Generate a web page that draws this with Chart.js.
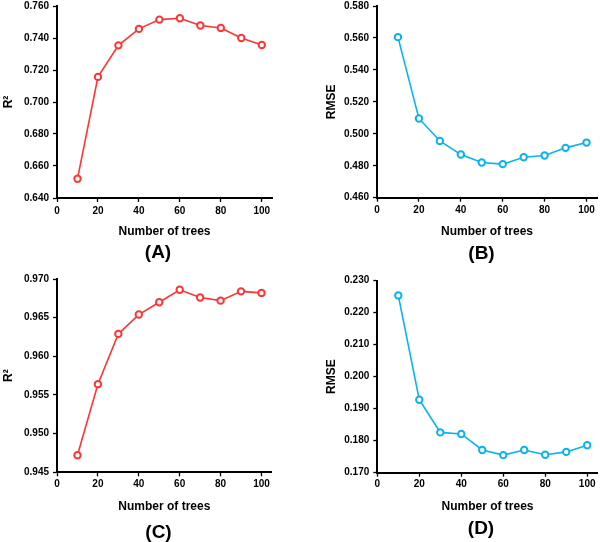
<!DOCTYPE html>
<html>
<head>
<meta charset="utf-8">
<script src="https://cdn.jsdelivr.net/npm/chart.js@4.4.1/dist/chart.umd.min.js"></script>
<style>
html,body{margin:0;padding:0;background:#fff;overflow:hidden;width:600px;height:542px;}
canvas{position:absolute;}
</style>
</head>
<body>
<canvas id="cA"></canvas>
<canvas id="cB"></canvas>
<canvas id="cC"></canvas>
<canvas id="cD"></canvas>
<script>
// ---- data ----
const trees = [10, 20, 30, 40, 50, 60, 70, 80, 90, 100];
const xTicks = [0, 20, 40, 60, 80, 100];
const r2A   = [0.652, 0.7157, 0.7354, 0.7457, 0.7515, 0.7523, 0.7478, 0.7463, 0.7400, 0.7356];
const rmseB = [0.5605, 0.5096, 0.4955, 0.4870, 0.4820, 0.4810, 0.4853, 0.4864, 0.4912, 0.4945];
const r2C   = [0.9472, 0.9564, 0.9629, 0.9654, 0.9670, 0.9686, 0.9676, 0.9672, 0.9684, 0.9682];
const rmseD = [0.2254, 0.1928, 0.1826, 0.1821, 0.1771, 0.1755, 0.1771, 0.1756, 0.1765, 0.1786];
const yTicksA = [0.640, 0.660, 0.680, 0.700, 0.720, 0.740, 0.760];
const yTicksB = [0.460, 0.480, 0.500, 0.520, 0.540, 0.560, 0.580];
const yTicksC = [0.945, 0.950, 0.955, 0.960, 0.965, 0.970];
const yTicksD = [0.170, 0.180, 0.190, 0.200, 0.210, 0.220, 0.230];
const xTitle = 'Number of trees';
const yTitles = ['R²', 'RMSE', 'R²', 'RMSE'];
const panelLabels = ['(A)', '(B)', '(C)', '(D)'];
const xMax = 105;

// ---- styling / geometry (page pixels) ----
const RED = '#FF3434';
const BLUE = '#0AB2EE';
const FAM = "'Liberation Sans', Arial, Helvetica, sans-serif";

const panels = [
  { id: 'cA', values: r2A, yTicks: yTicksA, color: RED, L: 0, T: 0,
    chartLeft: 57, chartRight: 272, chartTop: 5, chartBottom: 198,
    tickY: 211, axisTitleY: 232, titleY: 252.7, titleX: 158, yTitleX: 9 },
  { id: 'cB', values: rmseB, yTicks: yTicksB, color: BLUE, L: 300, T: 0,
    chartLeft: 377, chartRight: 597, chartTop: 5, chartBottom: 197.7,
    tickY: 210.7, axisTitleY: 231.7, titleY: 253.3, titleX: 481.7, yTitleX: 332 },
  { id: 'cC', values: r2C, yTicks: yTicksC, color: RED, L: 0, T: 271,
    chartLeft: 57, chartRight: 271.7, chartTop: 279, chartBottom: 472.3,
    tickY: 484.3, axisTitleY: 507, titleY: 532.5, titleX: 158.3, yTitleX: 9 },
  { id: 'cD', values: rmseD, yTicks: yTicksD, color: BLUE, L: 300, T: 271,
    chartLeft: 377.3, chartRight: 597.7, chartTop: 280.7, chartBottom: 472.7,
    tickY: 484.3, axisTitleY: 506.3, titleY: 528.3, titleX: 481, yTitleX: 332 }
];

const CANVAS_H = 290;
const TICK_LEN = 4;

panels.forEach((p, i) => {
  const W = Math.round(2 * (p.titleX - p.L));
  const dummyW = W - (p.chartRight - p.L);
  const cv = document.getElementById(p.id);
  cv.width = W; cv.height = CANVAS_H;
  cv.style.left = p.L + 'px'; cv.style.top = p.T + 'px';
  cv.style.width = W + 'px'; cv.style.height = CANVAS_H + 'px';

  const titleFontSize = 19, titleLH = titleFontSize * 1.2;
  const axisFontSize = 12, axisLH = axisFontSize * 1.2;
  const tickFontSize = 10, tickLH = tickFontSize * 1.2;
  const titleBoxTop = p.titleY - titleLH / 2;         // page coords
  const padBottom = (p.T + CANVAS_H) - (p.titleY + titleLH / 2);
  const padTop = p.chartTop - p.T;
  const xAxisH = titleBoxTop - p.chartBottom;
  const xTitlePadBottom = titleBoxTop - p.axisTitleY - axisLH / 2;
  const xTickPad = p.tickY - p.chartBottom - TICK_LEN - tickLH / 2;
  const yAxisW = p.chartLeft - p.L;
  const yTitlePadTop = p.yTitleX - p.L - axisLH / 2;

  new Chart(cv, {
    type: 'line',
    data: {
      datasets: [{
        data: trees.map((t, k) => ({ x: t, y: p.values[k] })),
        borderColor: p.color,
        borderWidth: 1.6,
        pointRadius: 3.2,
        pointBorderWidth: 2,
        pointBackgroundColor: '#ffffff',
        pointBorderColor: p.color,
        tension: 0,
        fill: false
      }]
    },
    options: {
      responsive: false,
      animation: false,
      devicePixelRatio: 1,
      events: [],
      layout: { padding: { left: 0, right: 0, top: padTop, bottom: padBottom } },
      plugins: {
        legend: { display: false },
        tooltip: { enabled: false },
        title: {
          display: true,
          position: 'bottom',
          text: panelLabels[i],
          color: '#000',
          font: { family: FAM, size: titleFontSize, weight: 'bold' },
          padding: { top: 0, bottom: 0 }
        }
      },
      scales: {
        x: {
          type: 'linear',
          position: 'bottom',
          min: 0, max: xMax,
          afterBuildTicks: s => { s.ticks = xTicks.map(v => ({ value: v })); },
          afterFit: s => { s.height = xAxisH; },
          grid: { display: true, drawOnChartArea: false, drawTicks: true, tickLength: TICK_LEN, tickColor: '#000', tickWidth: 1.3 },
          border: { display: true, color: '#000', width: 2 },
          ticks: {
            color: '#000', padding: xTickPad, maxRotation: 0, autoSkip: false,
            font: { family: FAM, size: tickFontSize, weight: 'bold' },
            callback: v => String(v)
          },
          title: {
            display: true, text: xTitle, color: '#000',
            font: { family: FAM, size: axisFontSize, weight: 'bold' },
            padding: { top: 0, bottom: xTitlePadBottom }
          }
        },
        y: {
          type: 'linear',
          position: 'left',
          min: p.yTicks[0], max: p.yTicks[p.yTicks.length - 1],
          afterBuildTicks: s => { s.ticks = p.yTicks.map(v => ({ value: v })); },
          afterFit: s => { s.width = yAxisW; s.paddingTop = 0; s.paddingBottom = 0; },
          grid: { display: true, drawOnChartArea: false, drawTicks: true, tickLength: TICK_LEN, tickColor: '#000', tickWidth: 1.3 },
          border: { display: true, color: '#000', width: 2 },
          ticks: {
            color: '#000', padding: 4, autoSkip: false,
            font: { family: FAM, size: tickFontSize, weight: 'bold' },
            callback: v => Number(v).toFixed(3)
          },
          title: {
            display: true, text: yTitles[i], color: '#000',
            font: { family: FAM, size: axisFontSize, weight: 'bold' },
            padding: { top: yTitlePadTop, bottom: 0 }
          }
        },
        spacer: {
          type: 'linear',
          position: 'right',
          display: true,
          grid: { display: false },
          border: { display: false },
          ticks: { display: false },
          afterFit: s => { s.width = dummyW; s.paddingTop = 0; s.paddingBottom = 0; }
        }
      }
    }
  });
});
</script>
</body>
</html>
